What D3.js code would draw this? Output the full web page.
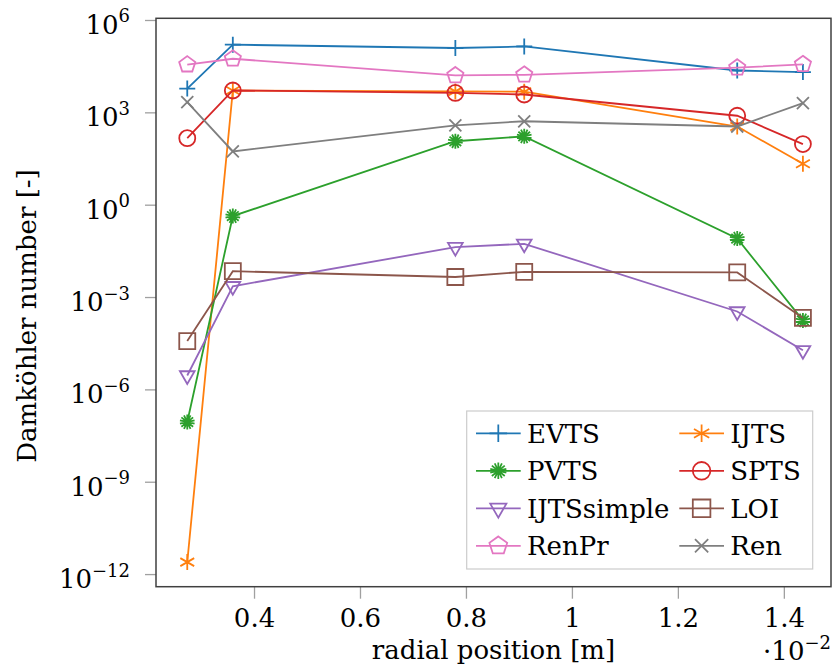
<!DOCTYPE html>
<html>
<head>
<meta charset="utf-8">
<script src="https://cdn.jsdelivr.net/npm/d3@7"></script>
<style>
	body { margin: 0; background: #fff; }
	svg { font-family: "DejaVu Serif", serif; }
</style>
</head>
<body>
<svg id="chart" width="834" height="669"></svg>
<script>
// radial positions in metres
const positions = [0.00274, 0.0036, 0.0078, 0.0091, 0.01312, 0.01436];

// Damköhler numbers per model
const evts = [5.9e3, 1.58e5, 1.23e5, 1.38e5, 2.29e4, 2.04e4];
const ijts = [2.45e-12, 5.13e3, 4.79e3, 4.68e3, 347, 21.4];
const pvts = [8.7e-8, 0.427, 115, 166, 0.0794, 1.74e-4];
const spts = [145, 5.13e3, 4.27e3, 3.8e3, 776, 93.3];
const ijtsSimple = [2.82e-6, 2.24e-3, 0.0417, 0.0537, 3.39e-4, 1.86e-5];
const loi = [3.72e-5, 6.92e-3, 4.47e-3, 6.61e-3, 6.31e-3, 2.09e-4];
const renPr = [3.55e4, 5.5e4, 1.58e4, 1.66e4, 2.82e4, 3.63e4];
const ren = [2.14e3, 53.7, 380, 513, 347, 2.0e3];

const seriesNames = ["EVTS", "IJTS", "PVTS", "SPTS", "IJTSsimple", "LOI", "RenPr", "Ren"];
const xTicks = [0.004, 0.006, 0.008, 0.01, 0.012, 0.014];
const yTicks = [1e-12, 1e-9, 1e-6, 1e-3, 1, 1e3, 1e6];

const series = [
	{ name: seriesNames[0], values: evts, color: "#1f77b4", mark: "plus" },
	{ name: seriesNames[1], values: ijts, color: "#ff7f0e", mark: "asterisk" },
	{ name: seriesNames[2], values: pvts, color: "#2ca02c", mark: "star" },
	{ name: seriesNames[3], values: spts, color: "#d62728", mark: "circle" },
	{ name: seriesNames[4], values: ijtsSimple, color: "#9467bd", mark: "triangle" },
	{ name: seriesNames[5], values: loi, color: "#8c564b", mark: "square" },
	{ name: seriesNames[6], values: renPr, color: "#e377c2", mark: "pentagon" },
	{ name: seriesNames[7], values: ren, color: "#7f7f7f", mark: "cross" }
];

const margin = { left: 156, right: 3, top: 18.3, bottom: 82.3 };
const width = 834, height = 669;
const fontSize = 26, supSize = 18;

const svg = d3.select("#chart");

const x = d3.scaleLinear()
	.domain([0.00215, 0.01489])
	.range([margin.left, width - margin.right]);

const y = d3.scaleLog()
	.domain([Math.pow(10, -12.41), Math.pow(10, 6.055)])
	.range([height - margin.bottom, margin.top]);

// marker outlines, drawn around (0,0)
function markPath(type) {
	const p = d3.path();
	const spokes = (n, r) => {
		for (let i = 0; i < n; ++i) {
			const a = Math.PI / 2 + i * Math.PI / n;
			p.moveTo(r * Math.cos(a), r * Math.sin(a));
			p.lineTo(-r * Math.cos(a), -r * Math.sin(a));
		}
	};
	const polygon = (n, r, start) => {
		for (let i = 0; i < n; ++i) {
			const a = start + i * 2 * Math.PI / n;
			if (i === 0) p.moveTo(r * Math.cos(a), r * Math.sin(a));
			else p.lineTo(r * Math.cos(a), r * Math.sin(a));
		}
		p.closePath();
	};
	switch (type) {
		case "plus": spokes(2, 8); break;
		case "asterisk": spokes(3, 8); break;
		case "star": spokes(7, 7.5); break;
		case "circle": p.arc(0, 0, 8, 0, 2 * Math.PI); break;
		case "triangle": polygon(3, 8.5, Math.PI / 2); break;
		case "square": p.rect(-8, -8, 16, 16); break;
		case "pentagon": polygon(5, 8.5, -Math.PI / 2); break;
		case "cross":
			p.moveTo(-6, -6); p.lineTo(6, 6);
			p.moveTo(-6, 6); p.lineTo(6, -6);
			break;
	}
	return p.toString();
}

// x axis ticks
const xAxis = svg.append("g")
	.attr("transform", `translate(0,${height - margin.bottom})`)
	.call(d3.axisBottom(x)
		.tickValues(xTicks)
		.tickSize(12)
		.tickSizeOuter(0)
		.tickFormat(d => d3.format("")(+(d * 100).toFixed(1))));
xAxis.select(".domain").remove();
xAxis.selectAll("line").attr("stroke", "#a0a0a0").attr("stroke-width", 1.3);
xAxis.selectAll("text")
	.attr("fill", "#000")
	.attr("font-size", fontSize)
	.attr("font-family", "DejaVu Serif")
	.attr("dy", null)
	.attr("y", 40.5);

// y axis ticks
const yAxis = svg.append("g")
	.attr("transform", `translate(${margin.left},0)`)
	.call(d3.axisLeft(y)
		.tickValues(yTicks)
		.tickSize(11)
		.tickSizeOuter(0)
		.tickFormat(""));
yAxis.select(".domain").remove();
yAxis.selectAll("line").attr("stroke", "#a0a0a0").attr("stroke-width", 1.3);
yAxis.selectAll(".tick").append("text")
	.attr("x", -26)
	.attr("y", 13.5)
	.attr("fill", "#000")
	.attr("font-size", fontSize)
	.attr("font-family", "DejaVu Serif")
	.attr("text-anchor", "end")
	.each(function(d) {
		const t = d3.select(this);
		const e = Math.round(Math.log10(d));
		t.append("tspan").text("10");
		t.append("tspan")
			.attr("font-size", supSize)
			.attr("dy", -11.5)
			.text(e < 0 ? "\u2212" + (-e) : e);
	});

// frame
svg.append("rect")
	.attr("x", margin.left)
	.attr("y", margin.top)
	.attr("width", width - margin.left - margin.right)
	.attr("height", height - margin.top - margin.bottom)
	.attr("fill", "none")
	.attr("stroke", "#404040")
	.attr("stroke-width", 1.5);

// lines and marks
const line = d3.line()
	.x((d, i) => x(positions[i]))
	.y(d => y(d));

const plots = svg.append("g").classed("series", true)
	.selectAll("g")
	.data(series).enter()
	.append("g")
	.attr("stroke", d => d.color)
	.attr("fill", "none")
	.attr("stroke-width", 1.8);

plots.append("path")
	.attr("d", d => line(d.values));

plots.each(function(s) {
	d3.select(this).selectAll(".mark")
		.data(s.values).enter()
		.append("path")
		.classed("mark", true)
		.attr("transform", (d, i) => `translate(${x(positions[i])},${y(d)})`)
		.attr("d", markPath(s.mark));
});

// legend
const legend = svg.append("g")
	.attr("transform", "translate(466.7,411)");

legend.append("rect")
	.attr("width", 346)
	.attr("height", 158)
	.attr("fill", "#fff")
	.attr("stroke", "#cccccc")
	.attr("stroke-width", 1.2);

const entries = legend.selectAll(".entry")
	.data(series).enter()
	.append("g")
	.classed("entry", true)
	.attr("transform", (d, i) => `translate(${i % 2 === 0 ? 9.3 : 212.6},${22.3 + Math.floor(i / 2) * 37.5})`);

entries.append("line")
	.attr("x1", 0).attr("x2", 44.7)
	.attr("stroke", d => d.color)
	.attr("stroke-width", 1.8);

entries.append("path")
	.attr("transform", "translate(22.3,0) scale(1.1)")
	.attr("d", d => markPath(d.mark))
	.attr("fill", "none")
	.attr("stroke", d => d.color)
	.attr("stroke-width", 1.6);

entries.append("text")
	.attr("x", 51)
	.attr("y", 9.5)
	.attr("font-size", fontSize)
	.text(d => d.name);

// axis titles
svg.append("text")
	.attr("x", (margin.left + width - margin.right) / 2)
	.attr("y", 658.5)
	.attr("text-anchor", "middle")
	.attr("font-size", fontSize)
	.text("radial position [m]");

const scaleLabel = svg.append("text")
	.attr("x", 831)
	.attr("y", 660)
	.attr("text-anchor", "end")
	.attr("font-size", fontSize);
scaleLabel.append("tspan").text("\u00b710");
scaleLabel.append("tspan").attr("font-size", supSize).attr("dy", -11.5).text("\u22122");

svg.append("text")
	.attr("transform", "translate(36,316) rotate(-90)")
	.attr("text-anchor", "middle")
	.attr("font-size", fontSize)
	.text("Damköhler number [-]");
</script>
</body>
</html>
